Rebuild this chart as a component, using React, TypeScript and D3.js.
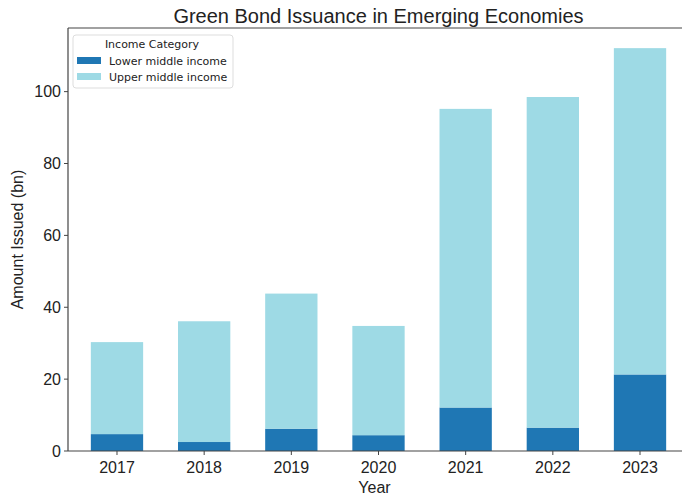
import React from "react";
import * as d3 from "d3";

const years = ["2017", "2018", "2019", "2020", "2021", "2022", "2023"];
const lowerMiddle = [4.7, 2.5, 6.2, 4.4, 12.1, 6.5, 21.3];
const upperMiddle = [25.6, 33.6, 37.6, 30.4, 83.1, 92.0, 90.8];
const seriesNames = ["Lower middle income", "Upper middle income"];
const seriesColors = ["#1f77b4", "#9edae5"];
const yTicks = [0, 20, 40, 60, 80, 100];

const W = 682;
const H = 497;
const left = 68;
const right = 689;
const top = 28;
const bottom = 451;

export default function App() {
  const x = d3
    .scaleLinear()
    .domain([-0.562, years.length - 1 + 0.562])
    .range([left, right]);
  const totals = years.map((_, i) => lowerMiddle[i] + upperMiddle[i]);
  const yMax = (d3.max(totals) as number) * 1.05;
  const y = d3.scaleLinear().domain([0, yMax]).range([bottom, top]);
  const bw = x(0.3) - x(-0.3);

  const rows = years.map((yr, i) => ({ yr, lower: lowerMiddle[i], upper: upperMiddle[i] }));
  const stack = d3.stack<any>().keys(["lower", "upper"])(rows);

  const font = "'Liberation Sans', Arial, sans-serif";
  const axisColor = "#444";

  return (
    <svg
      width={W}
      height={H}
      style={{ position: "absolute", left: 0, top: 0, background: "#fff" }}
    >
      <rect x={0} y={0} width={W} height={H} fill="#fff" />
      {stack.map((s, si) =>
        s.map((d, i) => (
          <rect
            key={si + "-" + i}
            x={x(i) - bw / 2}
            y={y(d[1])}
            width={bw}
            height={y(d[0]) - y(d[1])}
            fill={seriesColors[si]}
          />
        ))
      )}
      {/* spines */}
      <line x1={left} x2={left} y1={top} y2={bottom} stroke={axisColor} strokeWidth={1.2} />
      <line x1={left} x2={right} y1={bottom} y2={bottom} stroke={axisColor} strokeWidth={1.2} />
      <line x1={left} x2={right} y1={top} y2={top} stroke={axisColor} strokeWidth={1.2} />
      {/* y ticks */}
      {yTicks.map((t) => (
        <g key={t}>
          <line x1={left - 4} x2={left} y1={y(t)} y2={y(t)} stroke={axisColor} strokeWidth={1} />
          <text
            x={left - 7}
            y={y(t)}
            dy="0.35em"
            textAnchor="end"
            fontFamily={font}
            fontSize={16}
            fill="#222"
          >
            {t}
          </text>
        </g>
      ))}
      {/* x ticks */}
      {years.map((yr, i) => (
        <g key={yr}>
          <line x1={x(i)} x2={x(i)} y1={bottom} y2={bottom + 4} stroke={axisColor} strokeWidth={1} />
          <text
            x={x(i)}
            y={bottom + 22}
            textAnchor="middle"
            fontFamily={font}
            fontSize={16}
            fill="#222"
          >
            {yr}
          </text>
        </g>
      ))}
      <text
        x={(left + right) / 2 - 4}
        y={493}
        textAnchor="middle"
        fontFamily={font}
        fontSize={16}
        fill="#222"
      >
        Year
      </text>
      <text
        transform={`translate(23,${(top + bottom) / 2}) rotate(-90)`}
        textAnchor="middle"
        fontFamily={font}
        fontSize={16}
        fill="#222"
      >
        Amount Issued (bn)
      </text>
      <text
        x={(left + right) / 2}
        y={23}
        textAnchor="middle"
        fontFamily={font}
        fontSize={20}
        fill="#222"
      >
        Green Bond Issuance in Emerging Economies
      </text>
      {/* legend */}
      <g>
        <rect x={73} y={35} width={160} height={53} rx={3} fill="#fff" stroke="#ddd" strokeWidth={1} />
        <text x={152} y={48} textAnchor="middle" fontFamily="'DejaVu Sans', sans-serif" fontSize={11} fill="#222">
          Income Category
        </text>
        {seriesNames.map((n, i) => (
          <g key={n}>
            <rect x={77} y={57 + i * 16} width={24} height={7} fill={seriesColors[i]} />
            <text x={109} y={64.5 + i * 16} fontFamily="'DejaVu Sans', sans-serif" fontSize={11} fill="#222">
              {n}
            </text>
          </g>
        ))}
      </g>
    </svg>
  );
}
